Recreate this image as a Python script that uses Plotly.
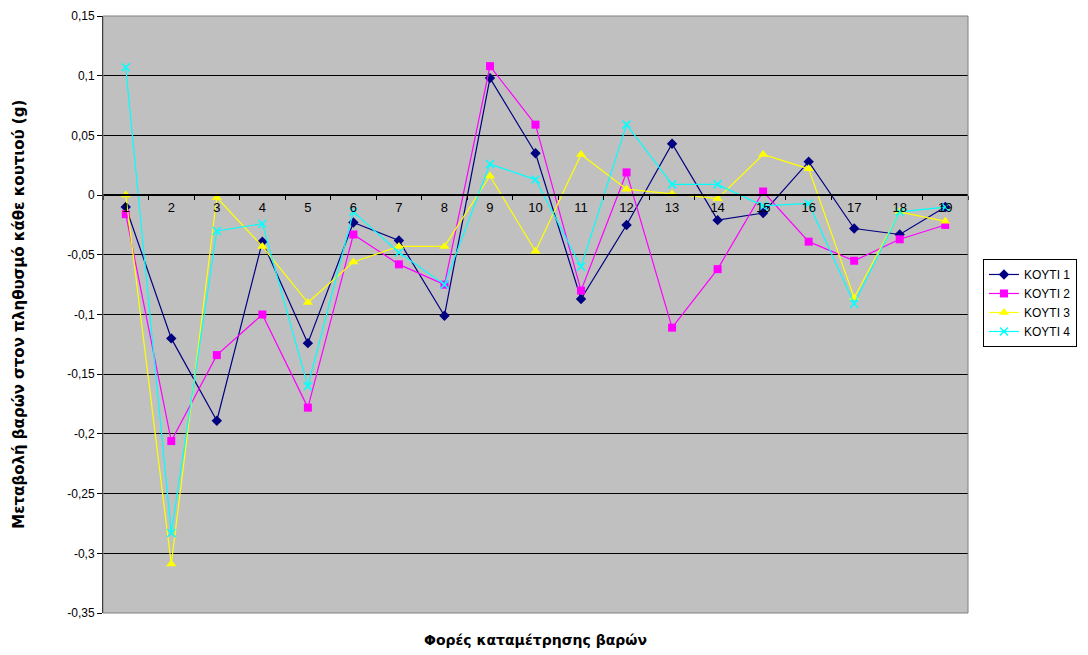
import plotly.graph_objects as go

categories = [str(i) for i in range(1, 20)]
koyti1 = [-0.010, -0.120, -0.189, -0.039, -0.124, -0.023, -0.038, -0.101, 0.098, 0.035,
          -0.087, -0.025, 0.043, -0.021, -0.015, 0.028, -0.028, -0.033, -0.010]
koyti2 = [-0.016, -0.206, -0.134, -0.100, -0.178, -0.033, -0.058, -0.075, 0.108, 0.059,
          -0.080, 0.019, -0.111, -0.062, 0.003, -0.039, -0.055, -0.037, -0.025]
koyti3 = [0.000, -0.309, -0.002, -0.043, -0.090, -0.056, -0.043, -0.043, 0.016, -0.047,
          0.034, 0.005, 0.001, -0.003, 0.034, 0.022, -0.086, -0.014, -0.022]
koyti4 = [0.107, -0.283, -0.030, -0.024, -0.160, -0.014, -0.048, -0.075, 0.026, 0.013,
          -0.060, 0.059, 0.009, 0.009, -0.009, -0.007, -0.091, -0.014, -0.010]
series_names = ["KOYTI 1", "KOYTI 2", "KOYTI 3", "KOYTI 4"]
y_tickvals = [0.15, 0.1, 0.05, 0, -0.05, -0.1, -0.15, -0.2, -0.25, -0.3, -0.35]
y_ticktext = ["0,15", "0,1", "0,05", "0", "-0,05", "-0,1", "-0,15", "-0,2", "-0,25", "-0,3", "-0,35"]
x_title = "Φορές καταμέτρησης βαρών"
y_title = "Μεταβολή βαρών στον πληθυσμό κάθε κουτιού (g)"

FONT = "Liberation Sans, Arial, sans-serif"
TFONT = "DejaVu Sans, sans-serif"

fig = go.Figure()
styles = [
    dict(color="#000080", symbol="diamond", size=8),
    dict(color="#FF00FF", symbol="square", size=8),
    dict(color="#FFFF00", symbol="triangle-up", size=9),
    dict(color="#00FFFF", symbol="x-thin", size=8),
]
for name, vals, st in zip(series_names, [koyti1, koyti2, koyti3, koyti4], styles):
    marker = dict(symbol=st["symbol"], size=st["size"], color=st["color"])
    if st["symbol"] == "x-thin":
        marker["line"] = dict(color=st["color"], width=1.5)
    else:
        marker["line"] = dict(width=0)
    fig.add_trace(go.Scatter(
        x=categories, y=vals, name=name, mode="lines+markers",
        line=dict(color=st["color"], width=1.2), marker=marker,
    ))

fig.update_layout(
    width=1088, height=655,
    margin=dict(l=95, r=128, t=8, b=50, autoexpand=False),
    paper_bgcolor="white", plot_bgcolor="#C0C0C0",
    font=dict(family=FONT, size=12, color="black"),
    showlegend=True,
    legend=dict(
        x=1.0173, y=0.593, xanchor="left", yanchor="top",
        bgcolor="white", bordercolor="black", borderwidth=1,
        font=dict(family=FONT, size=12, color="black"),
        tracegroupgap=0, itemwidth=30,
    ),
    xaxis=dict(
        type="category", range=[-0.5, 18.5],
        anchor="free", position=0.7, automargin=False,
        showline=True, linecolor="black", linewidth=2,
        ticks="outside", tickson="boundaries", ticklen=4, tickcolor="black",
        showgrid=False, zeroline=False,
        tickfont=dict(family=FONT, size=13, color="black"),
    ),
    yaxis=dict(
        range=[-0.35, 0.15], tickvals=y_tickvals, ticktext=y_ticktext,
        showline=True, linecolor="black", linewidth=1, automargin=False,
        ticks="outside", ticklen=5, tickcolor="black",
        showgrid=True, gridcolor="black", gridwidth=1,
        zeroline=False, ticklabeloverflow="allow",
        tickfont=dict(family=FONT, size=12, color="black"),
    ),
    shapes=[dict(type="rect", xref="paper", yref="paper", x0=0, x1=1, y0=0, y1=1,
                 line=dict(color="#808080", width=1), fillcolor="rgba(0,0,0,0)", layer="above")],
    annotations=[
        dict(text=f"<b>{x_title}</b>", xref="paper", yref="paper", x=0.5, y=-0.045,
             xanchor="center", yanchor="middle", showarrow=False,
             font=dict(family=TFONT, size=14, color="black")),
        dict(text=f"<b>{y_title}</b>", xref="paper", yref="paper", x=-0.098, y=0.5,
             xanchor="center", yanchor="middle", textangle=-90, showarrow=False,
             font=dict(family=TFONT, size=15, color="black")),
    ],
)

fig.write_html("out.html")
